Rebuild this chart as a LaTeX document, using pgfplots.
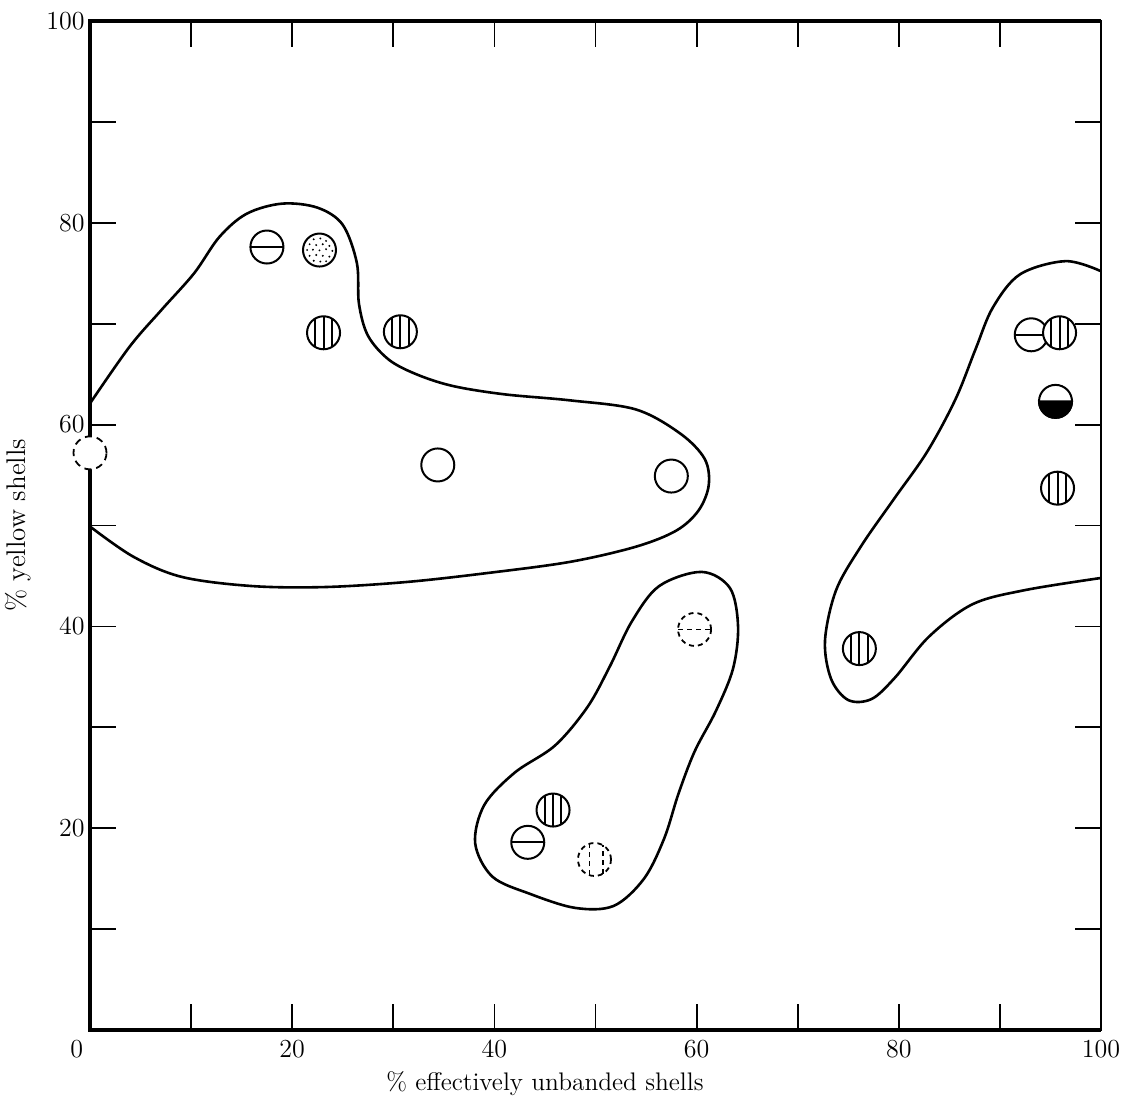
\documentclass[border=0pt]{standalone}
\usepackage{pgfplots}
\pgfplotsset{compat=1.18}
\usetikzlibrary{calc}

% circle marks, all filled white so they hide what is behind them
\newcommand\mkring{\pgfpathcircle{\pgfpointorigin}{\pgfplotmarksize}\pgfusepathqfillstroke}
\newcommand\mkvline[3]{% x, y from, y to (in mark radii)
  \pgfpathmoveto{\pgfpoint{#1\pgfplotmarksize}{#2\pgfplotmarksize}}%
  \pgfpathlineto{\pgfpoint{#1\pgfplotmarksize}{#3\pgfplotmarksize}}}
\newcommand\mkdot[2]{\pgfpathcircle{\pgfpoint{#1\pgfplotmarksize}{#2\pgfplotmarksize}}{0.065\pgfplotmarksize}}

\pgfdeclareplotmark{ring}{\mkring}
\pgfdeclareplotmark{hbar}{\mkring
  \pgfpathmoveto{\pgfpoint{-\pgfplotmarksize}{0pt}}%
  \pgfpathlineto{\pgfpoint{\pgfplotmarksize}{0pt}}%
  \pgfusepathqstroke}
\pgfdeclareplotmark{vbars}{\mkring
  \mkvline{-0.5}{-0.866}{0.866}\mkvline{0}{-1}{1}\mkvline{0.5}{-0.866}{0.866}%
  \pgfusepathqstroke}
\pgfdeclareplotmark{vbarstwo}{\mkring
  \mkvline{-0.3}{-0.954}{0.954}\mkvline{0.5}{-0.866}{0.866}%
  \pgfusepathqstroke}
\pgfdeclareplotmark{dots}{\mkring
  \pgfsetfillcolor{black}%
  \mkdot{-0.35}{0.65}\mkdot{0.05}{0.7}\mkdot{0.4}{0.55}%
  \mkdot{-0.6}{0.35}\mkdot{-0.2}{0.3}\mkdot{0.2}{0.35}\mkdot{0.6}{0.25}%
  \mkdot{-0.75}{0}\mkdot{-0.4}{0.02}\mkdot{0}{-0.02}\mkdot{0.4}{0.05}\mkdot{0.78}{-0.05}%
  \mkdot{-0.6}{-0.35}\mkdot{-0.2}{-0.3}\mkdot{0.2}{-0.35}\mkdot{0.6}{-0.4}%
  \mkdot{-0.35}{-0.65}\mkdot{0.05}{-0.7}\mkdot{0.4}{-0.68}%
  \pgfusepathqfill}
\pgfdeclareplotmark{halfblack}{\mkring
  \pgfsetfillcolor{black}%
  \pgfpathmoveto{\pgfpoint{-\pgfplotmarksize}{0pt}}%
  \pgfpatharc{180}{360}{\pgfplotmarksize}%
  \pgfpathclose
  \pgfusepathqfillstroke}

\begin{document}
\begin{tikzpicture}
\begin{axis}[
  scale only axis,
  width=505.5pt, height=504.5pt,
  xmin=0, xmax=100, ymin=0, ymax=100,
  clip=false,
  xtick={0,10,...,100},
  xticklabels={\makebox[0pt][r]{0\kern3.5pt},,20,,40,,60,,80,,100},
  ytick={0,10,...,100},
  yticklabels={,,20,,40,,60,,80,,100},
  tick align=inside,
  major tick length=13pt,
  every tick/.style={black, line width=0.9pt},
  axis line style={line width=1pt},
  tick label style={font=\fontsize{13}{15}\selectfont},
  xticklabel style={anchor=north, inner sep=0pt, yshift=-5pt},
  yticklabel style={anchor=east, inner sep=0pt, xshift=-2.5pt},
  every axis x label/.style={at={(axis description cs:0.45,-0.0535)}, anchor=center,
    font=\fontsize{12.7}{15}\selectfont},
  every axis y label/.style={at={(axis description cs:-0.0712,0.5)}, rotate=90, anchor=center,
    font=\fontsize{13.5}{16}\selectfont},
  xlabel={\% effectively unbanded shells},
  ylabel={\% yellow shells},
]

% heavy frame on left, top and bottom
\draw[line width=1.7pt, line join=miter] (rel axis cs:1,1) -- (rel axis cs:0,1)
  -- (rel axis cs:0,0) -- (rel axis cs:1,0);

% group outlines
\addplot[line width=1.3pt, smooth, tension=0.55] coordinates {
  (0,62.1) (3.9,67.7) (7.1,71.4) (10.3,75.0) (12.8,78.6) (15.5,80.9) (19.0,81.9)
  (22.5,81.5) (25.0,79.8) (26.4,76.0) (26.6,72.0) (27.5,68.8) (29.6,66.4)
  (32.5,64.9) (36.0,63.8) (41.0,63.0) (47.5,62.4) (54.0,61.5) (58.4,59.1)
  (60.8,56.6) (61.2,54.0) (60.2,51.5) (58.0,49.5) (54.0,47.9) (47.5,46.4)
  (39.4,45.3) (31.3,44.4) (23.2,43.9) (16.0,44.0) (9.1,44.9) (4.3,46.9) (0,49.9)
};
\addplot[line width=1.3pt, smooth cycle, tension=0.55] coordinates {
  (60.5,45.4) (63.3,43.8) (64.1,40.0) (63.6,35.8) (61.9,31.6) (59.8,27.6)
  (58.2,23.4) (56.8,19.0) (54.8,15.0) (51.8,12.3) (48.0,12.1) (43.5,13.5)
  (39.8,15.2) (38.1,18.5) (39.0,22.3) (42.0,25.5) (46.0,28.2) (49.2,32.0)
  (51.4,36.0) (53.6,40.5) (56.3,44.0)
};
\addplot[line width=1.3pt, smooth, tension=0.55] coordinates {
  (100,75.2) (96.5,76.2) (92.0,74.9) (89.3,71.6) (87.6,67.5) (85.6,62.5)
  (82.8,57.3) (79.5,52.6) (76.3,48.0) (73.8,43.6) (72.7,38.6) (73.3,34.8)
  (75.0,32.7) (77.3,32.8) (79.6,34.9) (83.0,39.0) (87.3,42.2) (92.5,43.6)
  (100,44.8)
};

% data points
\pgfplotsset{
  mk/.style={only marks, mark size=8.25pt,
    mark options={line width=1pt, fill=white, draw=black, solid}},
  mkdash/.style={only marks, mark size=8.25pt,
    mark options={line width=0.9pt, fill=white, draw=black, dash pattern=#1}},
}
\addplot[mk, mark=ring] coordinates {(34.4,56.0) (57.5,54.9)};
\addplot[mk, mark=hbar] coordinates {(17.5,77.6) (93.1,68.9) (43.3,18.6)};
\addplot[mk, mark=vbars] coordinates {(23.1,69.1) (30.7,69.2) (95.9,69.1)
  (95.7,53.7) (76.1,37.8) (45.8,21.8)};
\addplot[mk, mark=dots] coordinates {(22.7,77.3)};
\addplot[mk, mark=halfblack] coordinates {(95.5,62.3)};
\addplot[mkdash={on 3.5pt off 2.5pt}, mark=ring] coordinates {(0,57.2)};
\addplot[mkdash={on 2.5pt off 2pt}, mark=hbar] coordinates {(59.8,39.7)};
\addplot[mkdash={on 2.5pt off 2pt}, mark=vbarstwo] coordinates {(49.9,16.9)};
\end{axis}
\pgfresetboundingbox
\path[use as bounding box] ($(current axis.south west)+(-45pt,-37.5pt)$)
  rectangle ($(current axis.north east)+(11.5pt,10.5pt)$);
\end{tikzpicture}
\end{document}
